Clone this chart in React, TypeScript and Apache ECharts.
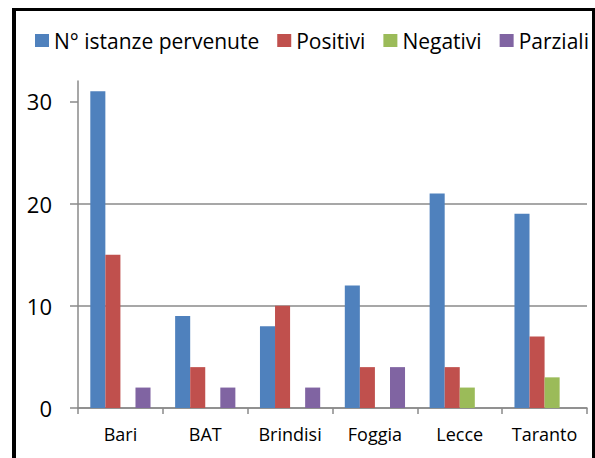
import React, { useEffect, useRef } from "react";
import * as echarts from "echarts";

const categories = ["Bari", "BAT", "Brindisi", "Foggia", "Lecce", "Taranto"];
const seriesNames = ["N° istanze pervenute", "Positivi", "Negativi", "Parziali"];
const istanze = [31, 9, 8, 12, 21, 19];
const positivi = [15, 4, 10, 4, 4, 7];
const negativi = [0, 0, 0, 0, 2, 3];
const parziali = [2, 2, 2, 4, 0, 0];
const yTicks = [0, 10, 20, 30];
const colors = ["#4F81BD", "#C0504D", "#9BBB59", "#8064A2"];

const FONT = "'Open Sans', 'Noto Sans', sans-serif";
const GRID_COLOR = "#8a8a8a";

export default function App() {
  const ref = useRef<HTMLDivElement>(null);

  useEffect(() => {
    if (!ref.current) return;
    const chart = echarts.init(ref.current, undefined, { renderer: "svg" });
    const values = [istanze, positivi, negativi, parziali];
    chart.setOption({
      animation: false,
      color: colors,
      textStyle: { fontFamily: FONT },
      legend: {
        left: 35,
        top: 30,
        width: 580,
        padding: 0,
        icon: "rect",
        itemWidth: 14,
        itemHeight: 13,
        itemGap: 18,
        textStyle: { fontFamily: FONT, fontSize: 21, color: "#000" },
        data: seriesNames,
      },
      grid: { left: 78, right: 8, top: 81, bottom: 50, containLabel: false },
      xAxis: {
        type: "category",
        data: categories,
        axisLine: { lineStyle: { color: GRID_COLOR, width: 1.5 } },
        axisTick: { show: true, length: 6, lineStyle: { color: GRID_COLOR, width: 1.5 } },
        axisLabel: { fontFamily: FONT, fontSize: 18, color: "#000", margin: 17, interval: 0 },
      },
      yAxis: {
        type: "value",
        min: 0,
        max: 32,
        interval: 10,
        axisLine: { show: true, lineStyle: { color: GRID_COLOR, width: 1.5 } },
        axisTick: {
          show: true,
          length: 8,
          customValues: yTicks,
          lineStyle: { color: GRID_COLOR, width: 1.5 },
        },
        axisLabel: {
          fontFamily: FONT,
          fontSize: 22,
          color: "#000",
          margin: 26,
          customValues: yTicks,
        },
        splitLine: {
          show: true,
          showMaxLine: false,
          lineStyle: { color: GRID_COLOR, width: 1.5 },
        },
      },
      series: seriesNames.map((name, i) => ({
        name,
        type: "bar",
        data: values[i],
        barGap: "0%",
        barCategoryGap: "29%",
        itemStyle: { color: colors[i] },
      })),
    });
    return () => chart.dispose();
  }, []);

  return (
    <div
      style={{
        position: "fixed",
        left: 0,
        top: 0,
        width: 595,
        height: 458,
        background: "#fff",
        overflow: "hidden",
      }}
    >
      <div ref={ref} style={{ position: "absolute", left: 0, top: 0, width: 595, height: 458 }} />
      <div
        style={{
          position: "absolute",
          left: 12,
          top: 8,
          width: 583,
          height: 470,
          boxSizing: "border-box",
          borderLeft: "4px solid #000",
          borderTop: "3px solid #000",
          borderRight: "3px solid #000",
          pointerEvents: "none",
        }}
      />
    </div>
  );
}
